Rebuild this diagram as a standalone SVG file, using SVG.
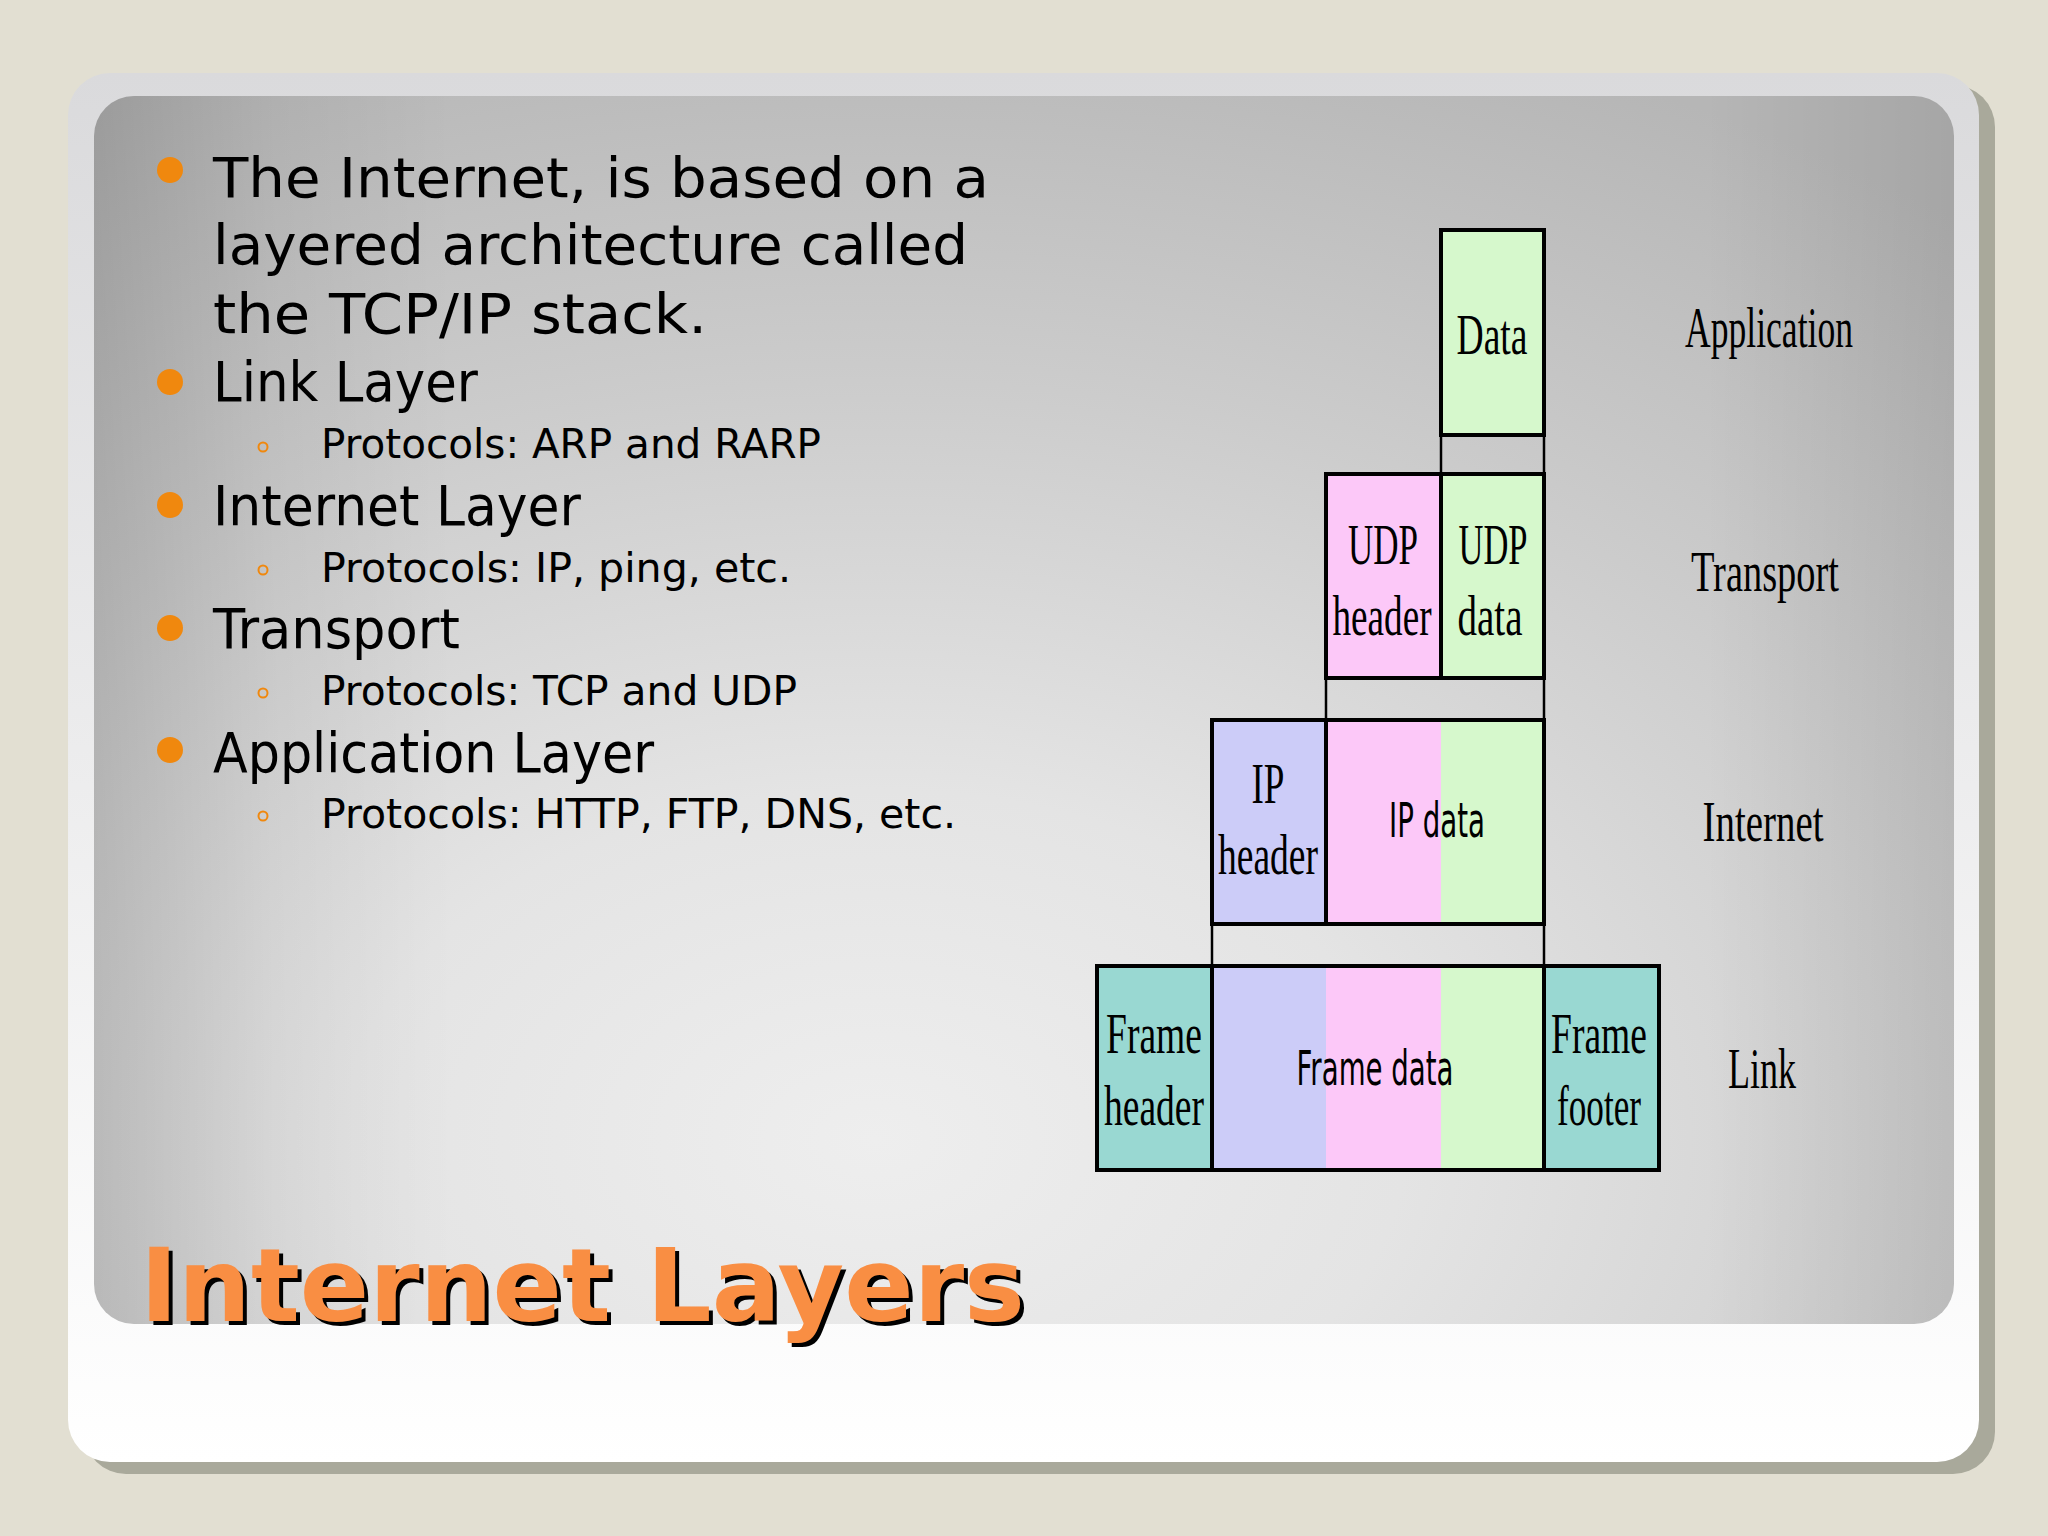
<svg xmlns="http://www.w3.org/2000/svg" width="2048" height="1536" viewBox="0 0 2048 1536">
<defs>
  <linearGradient id="cardGrad" x1="0" y1="0" x2="0" y2="1">
    <stop offset="0" stop-color="#DADADC"/>
    <stop offset="1" stop-color="#FFFFFF"/>
  </linearGradient>
  <radialGradient id="panelGrad" cx="0.42" cy="0.85" r="0.95">
    <stop offset="0" stop-color="#EEEEEE"/>
    <stop offset="0.3" stop-color="#E4E4E4"/>
    <stop offset="0.65" stop-color="#CCCCCC"/>
    <stop offset="1" stop-color="#B6B6B6"/>
  </radialGradient>
  <linearGradient id="leftShade" x1="0" y1="0" x2="1" y2="0">
    <stop offset="0" stop-color="#000" stop-opacity="0.15"/>
    <stop offset="0.5" stop-color="#000" stop-opacity="0.05"/>
    <stop offset="1" stop-color="#000" stop-opacity="0"/>
  </linearGradient>
  <linearGradient id="rightShade" x1="1" y1="0" x2="0" y2="0">
    <stop offset="0" stop-color="#000" stop-opacity="0.09"/>
    <stop offset="1" stop-color="#000" stop-opacity="0"/>
  </linearGradient>
  <clipPath id="panelClip">
    <rect x="94" y="96" width="1860" height="1228" rx="40"/>
  </clipPath>
  <style>
    .body { font-family: "DejaVu Sans", "Liberation Sans", sans-serif; fill: #000; }
    .main { font-size: 56px; }
    .sub { font-size: 40px; }
    .dot { fill: #F0880E; }
    .ring { fill: none; stroke: #F0880E; stroke-width: 2; }
    .cell { stroke: #000; stroke-width: 4; }
    .edge { fill: none; stroke: #000; stroke-width: 4; }
    .green { fill: #D6F8CC; }
    .pink { fill: #FCC8F8; }
    .lav { fill: #CCCCF8; }
    .teal { fill: #99D8D2; }
    .serif { font-family: "Liberation Serif", "DejaVu Serif", serif; font-size: 58px; fill: #000; text-anchor: middle; }
    .sans { font-family: "DejaVu Sans", "Liberation Sans", sans-serif; font-size: 48px; fill: #000; text-anchor: middle; }
    .conn { stroke: #000; stroke-width: 2.5; fill: none; }
    .title { font-family: "DejaVu Sans", "Liberation Sans", sans-serif; font-weight: bold; font-size: 101px; }
  </style>
</defs>

<!-- page background -->
<rect x="0" y="0" width="2048" height="1536" fill="#E2DFD2"/>

<!-- card shadow and card -->
<rect x="84" y="85" width="1911" height="1389" rx="42" fill="#A9A99B"/>
<rect x="68" y="73" width="1911" height="1389" rx="42" fill="url(#cardGrad)"/>

<!-- gray panel -->
<rect x="94" y="96" width="1860" height="1228" rx="40" fill="url(#panelGrad)"/>
<g clip-path="url(#panelClip)">
  <rect x="94" y="96" width="360" height="1228" fill="url(#leftShade)"/>
  <rect x="1704" y="96" width="250" height="1228" fill="url(#rightShade)"/>
</g>

<!-- bullet text -->
<g id="bullets">
  <circle class="dot" cx="170" cy="170" r="13"/>
  <text class="body main" x="213" y="197" textLength="776" lengthAdjust="spacingAndGlyphs">The Internet, is based on a</text>
  <text class="body main" x="213" y="264" textLength="755" lengthAdjust="spacingAndGlyphs">layered architecture called</text>
  <text class="body main" x="213" y="333" textLength="494" lengthAdjust="spacingAndGlyphs">the TCP/IP stack.</text>

  <circle class="dot" cx="170" cy="382" r="13"/>
  <text class="body main" x="213" y="401" textLength="265" lengthAdjust="spacingAndGlyphs">Link Layer</text>
  <circle class="ring" cx="263" cy="447" r="4.5"/>
  <text class="body sub" x="321" y="458" textLength="500" lengthAdjust="spacingAndGlyphs">Protocols: ARP and RARP</text>

  <circle class="dot" cx="170" cy="505" r="13"/>
  <text class="body main" x="213" y="525" textLength="368" lengthAdjust="spacingAndGlyphs">Internet Layer</text>
  <circle class="ring" cx="263" cy="570" r="4.5"/>
  <text class="body sub" x="321" y="582" textLength="470" lengthAdjust="spacingAndGlyphs">Protocols: IP, ping, etc.</text>

  <circle class="dot" cx="170" cy="628" r="13"/>
  <text class="body main" x="213" y="648" textLength="247" lengthAdjust="spacingAndGlyphs">Transport</text>
  <circle class="ring" cx="263" cy="693" r="4.5"/>
  <text class="body sub" x="321" y="705" textLength="476" lengthAdjust="spacingAndGlyphs">Protocols: TCP and UDP</text>

  <circle class="dot" cx="170" cy="750" r="13"/>
  <text class="body main" x="213" y="772" textLength="441" lengthAdjust="spacingAndGlyphs">Application Layer</text>
  <circle class="ring" cx="263" cy="816" r="4.5"/>
  <text class="body sub" x="321" y="828" textLength="635" lengthAdjust="spacingAndGlyphs">Protocols: HTTP, FTP, DNS, etc.</text>
</g>

<!-- title -->
<g id="title">
  <text class="title" x="144" y="1325" fill="#000" textLength="885" lengthAdjust="spacingAndGlyphs">Internet Layers</text>
  <text class="title" x="140" y="1321" fill="#F98E43" textLength="885" lengthAdjust="spacingAndGlyphs">Internet Layers</text>
</g>

<!-- connectors (projection lines between layers) -->
<g id="connectors">
  <line class="conn" x1="1441" y1="435" x2="1441" y2="474"/>
  <line class="conn" x1="1544" y1="435" x2="1544" y2="474"/>
  <line class="conn" x1="1326" y1="678" x2="1326" y2="720"/>
  <line class="conn" x1="1544" y1="678" x2="1544" y2="720"/>
  <line class="conn" x1="1212" y1="924" x2="1212" y2="966"/>
  <line class="conn" x1="1544" y1="924" x2="1544" y2="966"/>
</g>

<!-- Application layer -->
<g id="app-data">
  <rect class="cell green" x="1441" y="230" width="103" height="205"/>
  <text class="serif" x="1492" y="354" textLength="71" lengthAdjust="spacingAndGlyphs">Data</text>
</g>

<!-- Transport layer -->
<g id="udp-header">
  <rect class="cell pink" x="1326" y="474" width="115" height="204"/>
  <text class="serif" x="1383" y="564" textLength="70" lengthAdjust="spacingAndGlyphs">UDP</text>
  <text class="serif" x="1382" y="635" textLength="99" lengthAdjust="spacingAndGlyphs">header</text>
</g>
<g id="udp-data">
  <rect class="cell green" x="1441" y="474" width="103" height="204"/>
  <text class="serif" x="1493" y="564" textLength="69" lengthAdjust="spacingAndGlyphs">UDP</text>
  <text class="serif" x="1490" y="635" textLength="65" lengthAdjust="spacingAndGlyphs">data</text>
</g>

<!-- Internet layer -->
<g id="ip-header">
  <rect class="cell lav" x="1212" y="720" width="114" height="204"/>
  <text class="serif" x="1268" y="803" textLength="33" lengthAdjust="spacingAndGlyphs">IP</text>
  <text class="serif" x="1268" y="874" textLength="100" lengthAdjust="spacingAndGlyphs">header</text>
</g>
<g id="ip-data">
  <rect class="pink" x="1326" y="720" width="115" height="204"/>
  <rect class="green" x="1441" y="720" width="103" height="204"/>
  <rect class="edge" x="1326" y="720" width="218" height="204"/>
  <text class="sans" x="1437" y="837" textLength="96" lengthAdjust="spacingAndGlyphs">IP data</text>
</g>

<!-- Link layer -->
<g id="frame-header">
  <rect class="cell teal" x="1097" y="966" width="115" height="204"/>
  <text class="serif" x="1154" y="1053" textLength="96" lengthAdjust="spacingAndGlyphs">Frame</text>
  <text class="serif" x="1154" y="1125" textLength="100" lengthAdjust="spacingAndGlyphs">header</text>
</g>
<g id="frame-data">
  <rect class="lav" x="1212" y="966" width="114" height="204"/>
  <rect class="pink" x="1326" y="966" width="115" height="204"/>
  <rect class="green" x="1441" y="966" width="103" height="204"/>
  <rect class="edge" x="1212" y="966" width="332" height="204"/>
  <text class="sans" x="1375" y="1085" textLength="157" lengthAdjust="spacingAndGlyphs">Frame data</text>
</g>
<g id="frame-footer">
  <rect class="cell teal" x="1544" y="966" width="115" height="204"/>
  <text class="serif" x="1599" y="1053" textLength="96" lengthAdjust="spacingAndGlyphs">Frame</text>
  <text class="serif" x="1599" y="1125" textLength="84" lengthAdjust="spacingAndGlyphs">footer</text>
</g>

<!-- layer names -->
<g id="layer-names">
  <text class="serif" x="1769" y="347" textLength="168" lengthAdjust="spacingAndGlyphs">Application</text>
  <text class="serif" x="1765" y="591" textLength="148" lengthAdjust="spacingAndGlyphs">Transport</text>
  <text class="serif" x="1763" y="841" textLength="121" lengthAdjust="spacingAndGlyphs">Internet</text>
  <text class="serif" x="1762" y="1088" textLength="68" lengthAdjust="spacingAndGlyphs">Link</text>
</g>
</svg>
